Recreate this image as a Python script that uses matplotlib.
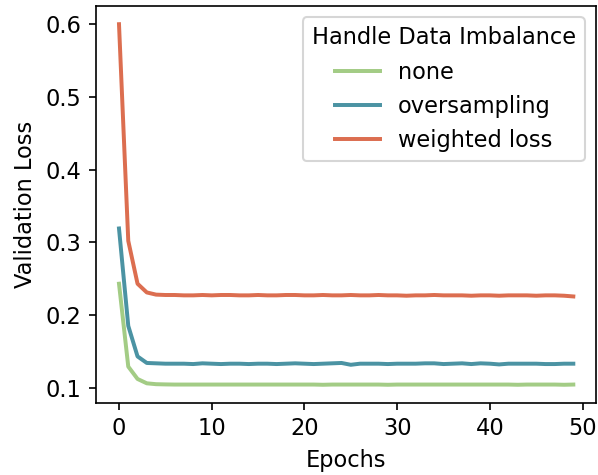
import matplotlib
matplotlib.use("Agg")
import matplotlib.pyplot as plt

plt.rcParams["font.size"] = 10.8

epochs = list(range(50))

none_loss = [0.243, 0.129, 0.112, 0.106, 0.1048, 0.1045, 0.1043, 0.1043, 0.1043, 0.1043,
             0.1043, 0.1043, 0.1043, 0.1043, 0.1043, 0.1043, 0.1043, 0.1043, 0.1043, 0.1043,
             0.1043, 0.1043, 0.104, 0.1043, 0.1043, 0.1043, 0.1043, 0.1043, 0.1043, 0.104,
             0.1043, 0.1043, 0.1043, 0.1043, 0.1043, 0.1043, 0.1043, 0.1043, 0.1043, 0.1043,
             0.1043, 0.1043, 0.1043, 0.104, 0.1043, 0.1043, 0.1043, 0.1043, 0.104, 0.1043]

oversampling_loss = [0.319, 0.185, 0.143, 0.134, 0.1335, 0.133, 0.133, 0.133, 0.1325, 0.1335,
                     0.133, 0.1325, 0.133, 0.133, 0.1325, 0.133, 0.133, 0.1325, 0.133, 0.1335,
                     0.133, 0.1325, 0.133, 0.1335, 0.134, 0.1315, 0.133, 0.133, 0.133, 0.1325,
                     0.133, 0.133, 0.133, 0.1335, 0.1335, 0.1325, 0.133, 0.1335, 0.1325, 0.1335,
                     0.133, 0.132, 0.133, 0.133, 0.133, 0.133, 0.1325, 0.1325, 0.133, 0.133]

weighted_loss = [0.600, 0.302, 0.243, 0.231, 0.228, 0.2275, 0.2275, 0.227, 0.227, 0.2275,
                 0.227, 0.2275, 0.2275, 0.227, 0.227, 0.2275, 0.227, 0.227, 0.2275, 0.2275,
                 0.227, 0.227, 0.2275, 0.227, 0.227, 0.2275, 0.227, 0.227, 0.2275, 0.227,
                 0.227, 0.2265, 0.227, 0.227, 0.2275, 0.227, 0.227, 0.227, 0.2265, 0.227,
                 0.227, 0.2265, 0.227, 0.227, 0.227, 0.2265, 0.227, 0.227, 0.2265, 0.2255]

series = {"none": (none_loss, "#a3cc85"),
          "oversampling": (oversampling_loss, "#4b93a3"),
          "weighted loss": (weighted_loss, "#dc6e50")}

fig, ax = plt.subplots(figsize=(598 / 150, 475 / 150), dpi=150)
fig.subplots_adjust(left=0.161, right=0.9967, top=0.987, bottom=0.152)

# one line per imbalance strategy
for name, (vals, col) in series.items():
    ax.plot(epochs, vals, color=col, linewidth=1.9, label=name)

ax.set_xlabel("Epochs")
ax.set_ylabel("Validation Loss")
ax.set_xticks([0, 10, 20, 30, 40, 50])
ax.set_yticks([0.1, 0.2, 0.3, 0.4, 0.5, 0.6])
ax.legend(title="Handle Data Imbalance", loc="upper right",
          title_fontsize=10.8)

fig.savefig("out.png", dpi=150)
